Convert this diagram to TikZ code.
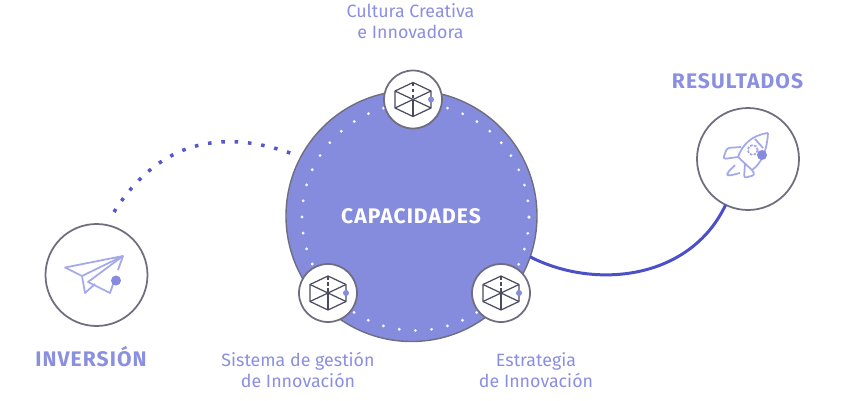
\documentclass[tikz,border=0pt]{standalone}
\usepackage{fontspec}
\setmainfont{Fira Sans}
\usetikzlibrary{positioning,calc}
\definecolor{capblue}{HTML}{858BDD}
\definecolor{linkblue}{HTML}{4B4FC8}
\definecolor{iconlilac}{HTML}{A4A9EC}
\definecolor{textlilac}{HTML}{8A8FE0}
\definecolor{ringgrey}{HTML}{6E6E80}
\definecolor{cubegrey}{HTML}{4A4A60}
\tikzset{
	bigcircle/.style={circle,draw=ringgrey,fill=capblue,line width=0.8pt,minimum size=251*0.02cm,inner sep=0,outer sep=0},
	smallcircle/.style={circle,draw=ringgrey,fill=white,line width=1pt,minimum size=58*0.02cm,inner sep=0,outer sep=0},
	iconcircle/.style={circle,draw=ringgrey,fill=white,line width=1pt,minimum size=102*0.02cm,inner sep=0,outer sep=0},
	headlabel/.style={text=textlilac,font=\fontsize{12}{14}\selectfont\bfseries\addfontfeature{LetterSpace=5},inner sep=0},
	caplabel/.style={text=textlilac,font=\fontsize{10.15}{12}\selectfont,align=center,inner sep=0},
	dot/.style={circle,fill=capblue,inner sep=0,minimum size=10*0.02cm}
}
\newcommand{\cubeicon}[1]{%
	\begin{scope}[shift={(#1)},draw=cubegrey,line width=0.7pt,line join=round]
		\draw (-18,-8.5) -- (0,-17) -- (18,-8.5) -- (18,8.5) -- (0,17) -- (-18,8.5) -- cycle;
		\draw (-18,-8.5) -- (0,0) -- (18,-8.5);
		\draw (-18,8.5) -- (0,0) -- (18,8.5);
		\draw (0,0) -- (0,17);
		\draw[dashed,dash pattern=on 2pt off 1.5pt] (0,-17) -- (0,0);
	\end{scope}
	\node[circle,fill=capblue,inner sep=0,minimum size=6*0.02cm] at ($(#1)+(18,0)$) {};
}
\begin{document}
\begin{tikzpicture}[x=0.02cm,y=-0.02cm]
	\useasboundingbox (0,0) rectangle (850,400);
	\node[bigcircle] (capacidades) at (411.5,216) {};
	\foreach \a in {0,8.18,...,360}
		\fill[white!92!capblue] ($(415.5,217)+(\a:113.5 and -113.5)$) circle (1.6);
	\node[text=white,font=\fontsize{12}{14}\selectfont\bfseries\addfontfeature{LetterSpace=5}] (captitle) at (411,216) {CAPACIDADES};

	\node[smallcircle] (cultura) at (413,99.5) {};
	\node[smallcircle] (sistema) at (328,293) {};
	\node[smallcircle] (estrategia) at (501,293) {};
	\cubeicon{cultura}
	\cubeicon{sistema}
	\cubeicon{estrategia}

	\node[iconcircle] (inversion) at (96.5,275) {};
	\node[iconcircle] (resultados) at (748,159) {};

	% paper plane
	\begin{scope}[draw=iconlilac,line width=1pt,line join=round]
		\draw (65,267.5) -- (123,256) -- (82,276) -- cycle;
		\draw (82,276) -- (85,293) -- (95,284);
		\draw (123,256) -- (88,282) -- (110,293) -- (116,276);
		\draw (123,256) -- (118,270);
	\end{scope}
	\node[dot] (planedot) at (116,280.5) {};

	% rocket
	\begin{scope}[draw=iconlilac,line width=1pt,line join=round]
		\draw (768,133) .. controls (752,135) and (742,145) .. (738,157) -- (752,170)
			.. controls (762,163) and (767,150) .. (768,133);
		\draw (755,139) -- (763,148);
		\draw[dashed,dash pattern=on 1.5pt off 0.8pt] (752.7,150) circle (5);
		\draw[rounded corners=1.5pt] (741,147) -- (727,148) -- (723,159) -- (738,157);
		\draw[rounded corners=1.5pt] (752,170) -- (755,175) -- (744,178) -- (745,164);
		\draw[rounded corners=1.5pt] (735,165) -- (727,173) -- (728,176) -- (740,173);
	\end{scope}
	\node[dot] (rocketdot) at (762,155) {};

	\coordinate (dotstart) at (114,212);
	\coordinate (dotend) at (293,154);
	\draw[linkblue!85!capblue,line width=2pt,dash pattern=on 2pt off 5.6pt]
		(dotstart) .. controls (165,131) and (235,133) .. (dotend);
	\draw[linkblue,line width=1.7pt] (capacidades.-19.3) .. controls (595,290) and (690,280) .. (resultados.244);

	\node[caplabel] (culturatxt) at (410.5,21.5) {Cultura Creativa\\e Innovadora};
	\node[caplabel] (sistematxt) at (298,370) {Sistema de gestión\\de Innovación};
	\node[caplabel] (estrategiatxt) at (536,370) {Estrategia\\de Innovación};
	\node[headlabel] (inversiontxt) at (91,357) {INVERSIÓN};
	\node[headlabel] (resultadostxt) at (737.5,81) {RESULTADOS};
\end{tikzpicture}
\end{document}
